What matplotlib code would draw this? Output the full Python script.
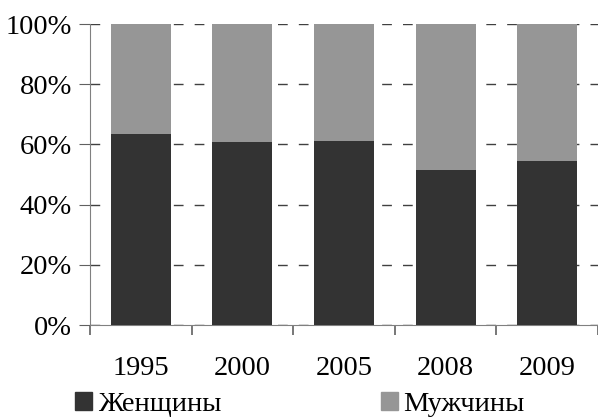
import numpy as np
import matplotlib.pyplot as plt
from matplotlib.patches import Patch

years = ["1995", "2000", "2005", "2008", "2009"]
women = [63.5, 60.7, 61.1, 51.5, 54.5]
men = [100 - w for w in women]

plt.rcParams['font.family'] = ['Liberation Serif', 'DejaVu Serif']

def main():
    fig = plt.figure(figsize=(5.98, 4.19), dpi=100)
    ax = fig.add_axes([90/598, 1-325/419, 1-90/598, 301/419])
    x = np.arange(len(years))
    ax.bar(x, women, width=0.59, color='#333333', zorder=3, label='Женщины')
    ax.bar(x, men, width=0.59, bottom=women, color='#969696', zorder=3, label='Мужчины')

    ax.set_xlim(-0.5, len(years) - 0.5)
    ax.set_ylim(0, 100)
    ax.set_yticks(np.arange(0, 101, 20))
    ax.set_yticklabels(["{:d}%".format(v) for v in range(0, 101, 20)])
    ax.yaxis.grid(True, linestyle=(0, (7, 8)), color='#404040', linewidth=1, zorder=0)
    ax.set_xticks(x)
    ax.set_xticklabels(years)
    ax.set_xticks(np.arange(-0.5, len(years), 1), minor=True)
    ax.tick_params(axis='x', which='major', length=0, pad=22, labelsize=20.5)
    ax.tick_params(axis='x', which='minor', length=7, width=1.2, direction='out', color='#606060')
    ax.tick_params(axis='y', length=8, direction='out', color='#606060', pad=5, labelsize=20.5)
    for s in ['top', 'right']:
        ax.spines[s].set_visible(False)
    for s in ['left', 'bottom']:
        ax.spines[s].set_color('#808080')

    handles = [Patch(color='#333333'), Patch(color='#969696')]
    fig.legend(handles, ['Женщины', 'Мужчины'], loc='lower left',
               bbox_to_anchor=(58/598, -0.036), ncol=2, frameon=False,
               fontsize=20.5, handlelength=0.6, handleheight=0.6,
               handletextpad=0.2, columnspacing=5.6, borderpad=0.1)
    fig.savefig("out.png", dpi=100)

if __name__ == '__main__':
    main()
